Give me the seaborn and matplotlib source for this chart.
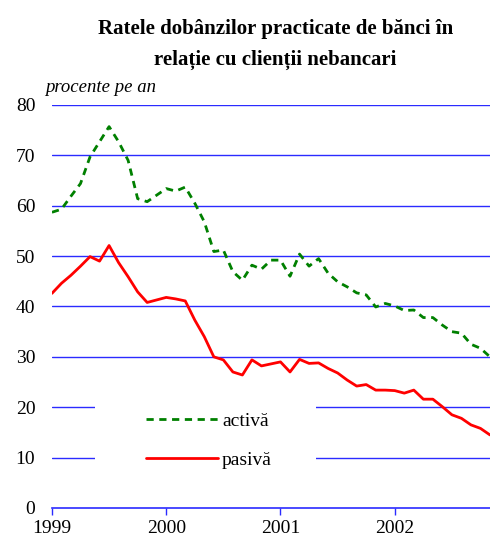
import numpy as np
import pandas as pd
import matplotlib
matplotlib.use("Agg")
import matplotlib.pyplot as plt
from matplotlib.patches import Rectangle
from matplotlib.lines import Line2D
import seaborn as sns

# Monthly data, Jan 1999 .. Nov 2002
activa = [58.7, 59.3, 61.9, 64.4, 69.7, 72.7, 75.7, 72.7, 69.0, 61.4, 60.8, 62.1,
          63.4, 62.9, 63.7, 60.5, 56.8, 50.9, 51.2, 46.9, 45.2, 48.2, 47.4, 49.2,
          49.2, 46.0, 50.4, 48.0, 49.5, 46.6, 44.9, 43.9, 42.7, 42.3, 39.9, 40.6,
          40.1, 39.2, 39.3, 37.8, 37.8, 36.3, 35.0, 34.7, 32.5, 31.7, 30.0]
pasiva = [42.6, 44.6, 46.2, 48.0, 49.9, 49.0, 52.1, 48.7, 45.9, 42.9, 40.8, 41.3,
          41.8, 41.5, 41.1, 37.3, 34.0, 30.0, 29.4, 27.0, 26.4, 29.4, 28.2, 28.6,
          29.0, 27.0, 29.5, 28.7, 28.8, 27.7, 26.8, 25.4, 24.2, 24.5, 23.4, 23.4,
          23.3, 22.8, 23.4, 21.6, 21.6, 20.1, 18.5, 17.8, 16.5, 15.8, 14.5]
years = [1999, 2000, 2001, 2002]
title = "Ratele dobânzilor practicate de bănci în\nrelație cu clienții nebancari"
ylabel_txt = "procente pe an"
series_names = ["activă", "pasivă"]

n = len(activa)
t = np.array([years[0] + i / 12 for i in range(n)])
df = pd.DataFrame({"t": np.concatenate([t, t]),
                   "v": activa + pasiva,
                   "serie": [series_names[0]] * n + [series_names[1]] * n})

sns.set_style("white")
plt.rcParams["font.family"] = ["Liberation Serif", "DejaVu Serif"]
plt.rcParams["text.color"] = "black"
plt.rcParams["xtick.color"] = "black"
plt.rcParams["ytick.color"] = "black"

fig = plt.figure(figsize=(4.9, 5.41), dpi=100)
ax = fig.add_axes([0.106, 0.061, 0.894, 0.745])

ax.set_ylim(0, 80)
ax.set_xlim(t[0], t[-1])
ax.set_yticks(range(0, 81, 10))
ax.set_xticks(years)
ax.set_xticklabels([str(y) for y in years])
for yv in range(10, 81, 10):
    ax.axhline(yv, color="#2b2bff", lw=1.0, zorder=0.5)

ax.add_patch(Rectangle((1999.375, 4.5), 2001.31 - 1999.375, 22.0,
                       facecolor="white", edgecolor="none", zorder=1.5))

sns.lineplot(data=df, x="t", y="v", hue="serie", style="serie",
             palette={series_names[0]: "#008000", series_names[1]: "#ff0000"},
             dashes={series_names[0]: (2.6, 2.0), series_names[1]: ""},
             linewidth=2.0, ax=ax, legend=False, zorder=2)

for s in ["left", "top", "right"]:
    ax.spines[s].set_visible(False)
ax.spines["bottom"].set_color("#2b2bff")
ax.spines["bottom"].set_linewidth(1.2)
ax.tick_params(axis="x", direction="out", length=5, width=1, color="#2b2bff",
               labelcolor="black", labelsize=14, pad=4, bottom=True)
ax.tick_params(axis="y", length=0, labelsize=14, pad=12, labelcolor="black")
ax.set_xlabel("")
ax.set_ylabel("")

handles = [Line2D([], [], color="#008000", lw=2.0, dashes=(2.6, 2.0)),
           Line2D([], [], color="#ff0000", lw=2.0)]
leg = ax.legend(handles, series_names, loc="upper left",
                bbox_to_anchor=(0.175, 0.28), frameon=False, fontsize=14,
                handlelength=3.7, handletextpad=0.2, labelspacing=1.1)

fig.text(0.562, 0.965, title, ha="center", va="top", fontsize=15,
         fontweight="bold", linespacing=1.7)
fig.text(0.092, 0.822, ylabel_txt, ha="left", va="bottom", fontsize=13.5,
         style="italic")

fig.savefig("out.png", dpi=100)
